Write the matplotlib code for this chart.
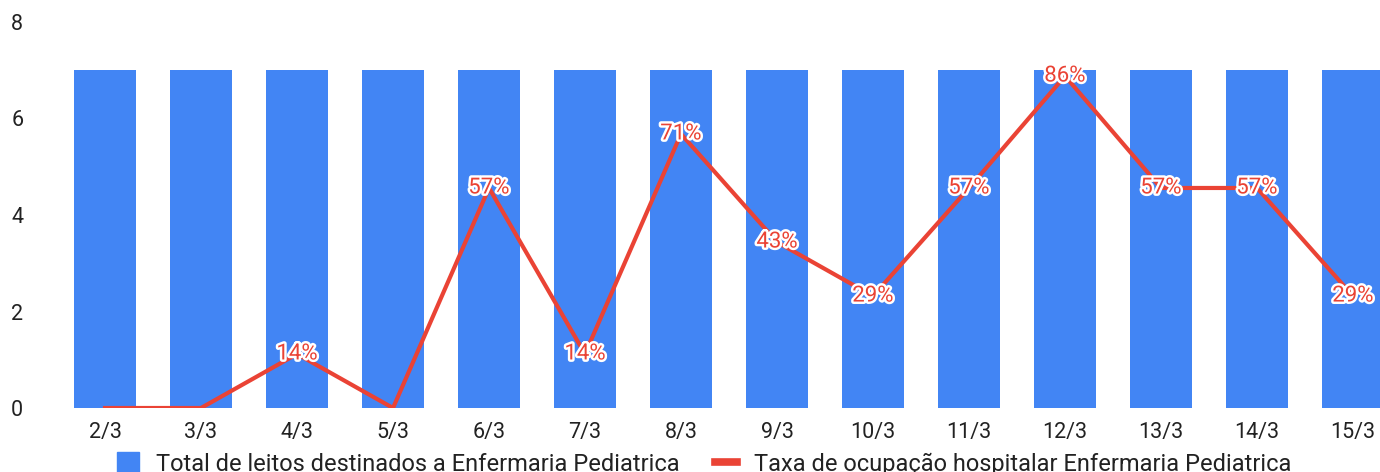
import matplotlib
matplotlib.use("Agg")
import matplotlib.pyplot as plt
import matplotlib.patheffects as pe
from matplotlib.lines import Line2D
from matplotlib.patches import Patch

# dados
dias = ["2/3", "3/3", "4/3", "5/3", "6/3", "7/3", "8/3", "9/3", "10/3",
        "11/3", "12/3", "13/3", "14/3", "15/3"]
leitos = [7, 7, 7, 7, 7, 7, 7, 7, 7, 7, 7, 7, 7, 7]
ocupacao = [0, 0, 0.14, 0, 0.57, 0.14, 0.71, 0.43, 0.29, 0.57, 0.86, 0.57, 0.57, 0.29]
rotulos = ["", "", "14%", "", "57%", "14%", "71%", "43%", "29%", "57%", "86%", "57%", "57%", "29%"]

azul = "#4285F4"
vermelho = "#EA4335"

plt.rcParams['font.family'] = ['Roboto', 'DejaVu Sans']

W, H = 1380, 472
fig = plt.figure(figsize=(W / 100, H / 100), dpi=100)
ax = fig.add_axes([57 / W, 64 / H, 1344 / W, 386 / H])

x = range(len(dias))
ax.bar(x, leitos, width=0.65, color=azul, zorder=2)
ax.set_xlim(-0.5, len(dias) - 0.5)
ax.set_ylim(0, 8)
ax.set_yticks([0, 2, 4, 6, 8])
ax.set_xticks(list(x))
ax.set_xticklabels(dias)
ax.tick_params(length=0, labelsize=15.5, colors="#222222")
ax.tick_params(axis='y', pad=33)
ax.tick_params(axis='x', pad=10)
for lbl in ax.get_yticklabels():
    lbl.set_horizontalalignment('left')
for s in ax.spines.values():
    s.set_visible(False)

# taxa de ocupacao no eixo secundario (0 a 1)
ax2 = ax.twinx()
ax2.set_ylim(0, 1)
ax2.plot(x, ocupacao, color=vermelho, lw=3, zorder=3)
ax2.set_yticks([])
for s in ax2.spines.values():
    s.set_visible(False)
for i, r in enumerate(rotulos):
    if r:
        ax2.text(i, ocupacao[i], r, ha='center', va='center', fontsize=16,
                 color=vermelho, zorder=4,
                 path_effects=[pe.withStroke(linewidth=3.5, foreground='white')])

handles = [Patch(color=azul), Line2D([0], [0], color=vermelho, lw=5.5)]
fig.legend(handles, ["Total de leitos destinados a Enfermaria Pediatrica",
                     "Taxa de ocupação hospitalar Enfermaria Pediatrica"],
           loc='center', bbox_to_anchor=(704 / W, 1 - 464 / H), ncol=2,
           frameon=False, fontsize=17, handlelength=0.95, handleheight=0.95,
           columnspacing=1.5, handletextpad=0.7, labelcolor="#222222")

fig.savefig("out.png", dpi=100)
